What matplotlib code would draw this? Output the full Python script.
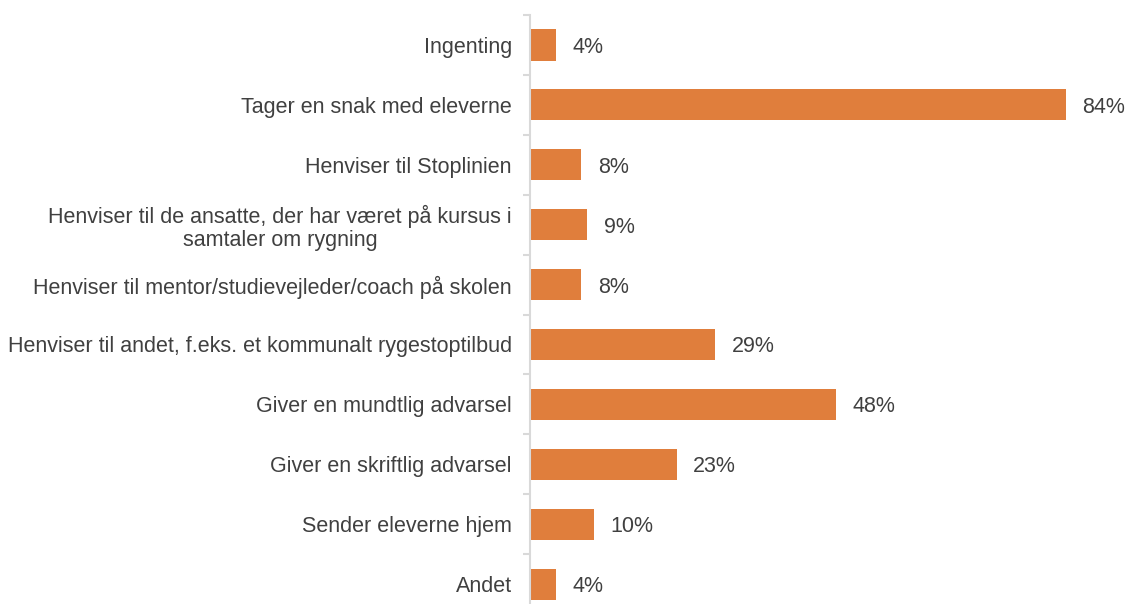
import numpy as np
import matplotlib
matplotlib.use("Agg")
import matplotlib.pyplot as plt

plt.rcParams['font.family'] = ['Liberation Sans', 'DejaVu Sans']

categories = [
    "Ingenting",
    "Tager en snak med eleverne",
    "Henviser til Stoplinien",
    "Henviser til de ansatte, der har været på kursus i\nsamtaler om rygning",
    "Henviser til mentor/studievejleder/coach på skolen",
    "Henviser til andet, f.eks. et kommunalt rygestoptilbud",
    "Giver en mundtlig advarsel",
    "Giver en skriftlig advarsel",
    "Sender eleverne hjem",
    "Andet",
]
values = [4, 84, 8, 9, 8, 29, 48, 23, 10, 4]

bar_color = "#E07E3C"
text_color = "#404040"
axis_color = "#D9D9D9"
fs = 15.5

fig = plt.figure(figsize=(11.26, 6.04), dpi=100)
ax = fig.add_axes([530 / 1126, -0.0166, 596 / 1126, 0.9917])

y = np.arange(len(categories))
ax.barh(y, values, height=0.52, color=bar_color)
ax.set_ylim(len(categories) - 0.5, -0.5)
ax.set_xlim(0, 93.4)

for yi, v in zip(y, values):
    ax.text(v + 2.6, yi, "{}%".format(v), va="center_baseline", ha="left",
            fontsize=fs, color=text_color)

ax.set_yticks(y)
ax.set_yticklabels(categories, fontsize=fs, color=text_color, ha="right",
                   multialignment="center", linespacing=1.1)
ax.set_yticks(np.arange(len(categories) + 1) - 0.5, minor=True)
ax.tick_params(axis="y", which="major", length=0, pad=13)
ax.tick_params(axis="y", which="minor", length=5, color=axis_color, width=1.5)
ax.set_xticks([])

for side in ["top", "right", "bottom"]:
    ax.spines[side].set_visible(False)
ax.spines["left"].set_color(axis_color)
ax.spines["left"].set_linewidth(1.5)

fig.savefig("out.png", dpi=100)
